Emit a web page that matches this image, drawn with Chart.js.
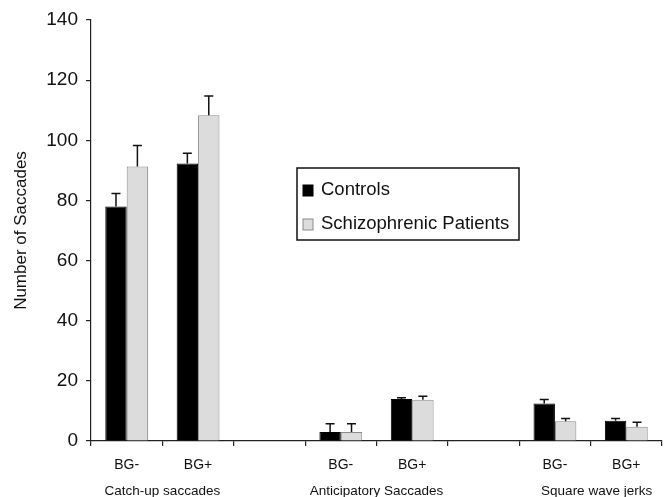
<!DOCTYPE html>
<html>
<head>
<meta charset="utf-8">
<script src="https://cdn.jsdelivr.net/npm/chart.js@4.4.1/dist/chart.umd.min.js"></script>
<style>
  body { margin: 0; background: #fff; }
  canvas { display: block; }
</style>
</head>
<body>
<canvas id="myChart" width="664" height="497"></canvas>
<script>
const categories = ['BG-', 'BG+', '', 'BG-', 'BG+', '', 'BG-', 'BG+'];
const groupLabels = ['Catch-up saccades', 'Anticipatory Saccades', 'Square wave jerks'];
const controls = [78, 92.3, null, 3, 14, null, 12.5, 6.7];
const controlsErr = [4.3, 3.4, null, 2.7, 0.4, null, 1.3, 0.8];
const patients = [91.3, 108.3, null, 3, 13.7, null, 6.6, 4.7];
const patientsErr = [7, 6.4, null, 2.7, 1.2, null, 0.9, 1.5];
const yTicks = [0, 20, 40, 60, 80, 100, 120, 140];

const FONT = "'Liberation Sans', Arial, sans-serif";

// error bars, upward only
const errorBars = {
    id: 'errorBars',
    afterDatasetsDraw(chart) {
        const ctx = chart.ctx;
        const y = chart.scales.y;
        chart.data.datasets.forEach((ds, i) => {
            const meta = chart.getDatasetMeta(i);
            meta.data.forEach((bar, j) => {
                const v = ds.data[j];
                const e = ds.errors[j];
                if (v == null || e == null) return;
                const top = y.getPixelForValue(v + e);
                ctx.save();
                ctx.strokeStyle = '#111';
                ctx.lineWidth = 1.5;
                ctx.beginPath();
                ctx.moveTo(bar.x, bar.y);
                ctx.lineTo(bar.x, top);
                ctx.moveTo(bar.x - 4.5, top);
                ctx.lineTo(bar.x + 4.5, top);
                ctx.stroke();
                ctx.restore();
            });
        });
    }
};

// group names under pairs of categories
const groupNames = {
    id: 'groupNames',
    afterDraw(chart) {
        const ctx = chart.ctx;
        const x = chart.scales.x;
        ctx.save();
        ctx.font = '13.5px ' + FONT;
        ctx.fillStyle = '#111';
        ctx.textAlign = 'center';
        ctx.textBaseline = 'middle';
        groupLabels.forEach((g, i) => {
            let cx = (x.getPixelForValue(i * 3) + x.getPixelForValue(i * 3 + 1)) / 2;
            if (i === 2) cx += 6;
            ctx.fillText(g, cx, chart.chartArea.bottom + 50);
        });
        ctx.restore();
    }
};

// boxed legend inside the plot
const boxLegend = {
    id: 'boxLegend',
    afterDraw(chart) {
        const ctx = chart.ctx;
        const left = 297, top = 168, w = 222, h = 72;
        ctx.save();
        ctx.strokeStyle = '#111';
        ctx.lineWidth = 1.5;
        ctx.strokeRect(left, top, w, h);
        ctx.font = '18.5px ' + FONT;
        ctx.textBaseline = 'middle';
        chart.data.datasets.forEach((ds, i) => {
            const cy = top + 22 + i * 34;
            ctx.fillStyle = ds.backgroundColor;
            ctx.fillRect(left + 6, cy - 5, 10, 11);
            ctx.strokeStyle = ds.borderColor;
            ctx.lineWidth = 1;
            ctx.strokeRect(left + 6, cy - 5, 10, 11);
            ctx.fillStyle = '#111';
            ctx.fillText(ds.label, left + 24, cy);
        });
        ctx.restore();
    }
};

const ctx = document.getElementById('myChart').getContext('2d');
const chart = new Chart(ctx, {
    type: 'bar',
    data: {
        labels: categories,
        datasets: [{
            label: 'Controls',
            data: controls,
            errors: controlsErr,
            backgroundColor: '#000000',
            borderColor: '#000000',
            borderWidth: 1
        }, {
            label: 'Schizophrenic Patients',
            data: patients,
            errors: patientsErr,
            backgroundColor: '#dcdcdc',
            borderColor: '#8a8a8a',
            borderWidth: 1
        }]
    },
    options: {
        responsive: false,
        animation: false,
        categoryPercentage: 0.6,
        barPercentage: 1.0,
        layout: { padding: { top: 20, right: 2 } },
        plugins: {
            legend: { display: false },
            tooltip: { enabled: false }
        },
        scales: {
            x: {
                grid: { drawOnChartArea: false, tickLength: 5, color: '#222', lineWidth: 1.2 },
                border: { color: '#222', width: 1.2 },
                ticks: { color: '#111', font: { family: FONT, size: 14 }, padding: 11, maxRotation: 0, autoSkip: false },
                afterFit: s => { s.height = 56; }
            },
            y: {
                min: 0,
                max: 140,
                afterBuildTicks: s => { s.ticks = yTicks.map(v => ({ value: v })); },
                grid: { drawOnChartArea: false, tickLength: 5, color: '#222', lineWidth: 1.2 },
                border: { color: '#222', width: 1.2 },
                ticks: { color: '#111', font: { family: FONT, size: 19 }, padding: 8 },
                title: {
                    display: true,
                    text: 'Number of Saccades',
                    color: '#111',
                    font: { family: FONT, size: 17 },
                    padding: { top: 11, bottom: 0 }
                },
                afterFit: s => { s.width = 91; }
            }
        }
    },
    plugins: [errorBars, groupNames, boxLegend]
});
</script>
</body>
</html>
